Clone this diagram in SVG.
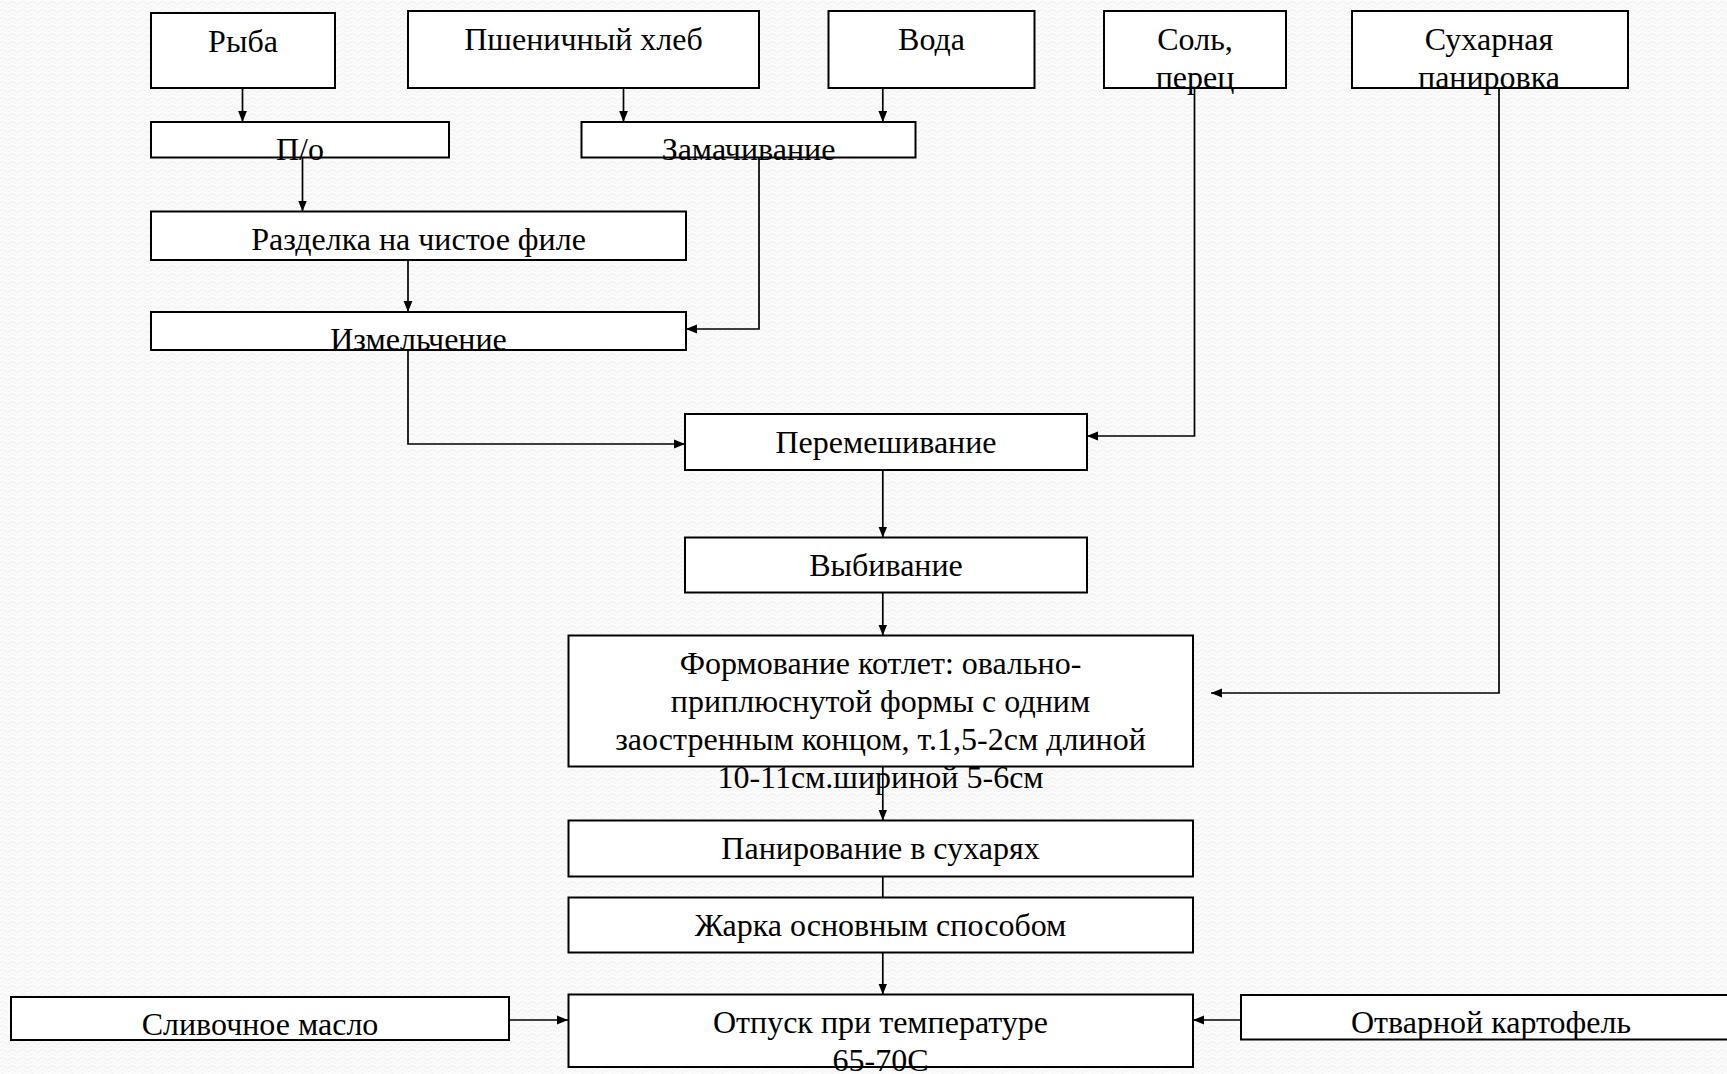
<svg xmlns="http://www.w3.org/2000/svg" width="1727" height="1074" viewBox="0 0 1727 1074">
<defs>
<pattern id="bgtex" width="10" height="8" patternUnits="userSpaceOnUse">
<rect width="10" height="8" fill="#fbfbfb"/>
<path d="M0,3 Q2.5,0 5,3 T10,3" fill="none" stroke="#eeeeee" stroke-width="1"/>
<path d="M0,7 Q2.5,4 5,7 T10,7" fill="none" stroke="#f3f3f3" stroke-width="1"/>
</pattern>
<marker id="arr" viewBox="0 0 10 10" refX="10" refY="5" markerUnits="userSpaceOnUse" markerWidth="11" markerHeight="11" orient="auto">
<path d="M0,1 L10,5 L0,9 Z" fill="#000"/>
</marker>
</defs>
<style>
.box{fill:#fff;stroke:#000;stroke-width:2}
.t{font-family:"Liberation Serif","Times New Roman",serif;font-size:32px;fill:#000;text-anchor:middle}
.c{fill:none;stroke:#000;stroke-width:1.7}
.a{marker-end:url(#arr)}
</style>
<rect width="1727" height="1074" fill="url(#bgtex)"/>

<g id="connectors">
<path class="c a" d="M242.5,88 V122"/>
<path class="c a" d="M623.5,88 V122"/>
<path class="c a" d="M882.8,88 V122"/>
<path class="c a" d="M302.5,157.5 V211.5"/>
<path class="c a" d="M408,260 V312"/>
<path class="c a" d="M759,157.5 V329 H686"/>
<path class="c a" d="M408,350 V444 H685"/>
<path class="c a" d="M1194.5,88 V436 H1087"/>
<path class="c a" d="M882.8,470 V537.5"/>
<path class="c a" d="M882.8,592.5 V635.5"/>
<path class="c a" d="M1499,88 V693 H1211"/>
<path class="c a" d="M882.8,766.5 V820.5"/>
<path class="c" d="M882.8,876.5 V897.5"/>
<path class="c a" d="M882.8,952.5 V994.5"/>
<path class="c a" d="M509,1020 H568"/>
<path class="c a" d="M1241,1020 H1193"/>
</g>

<g id="n-ryba"><rect class="box" x="151" y="13" width="184" height="75"/><text class="t" x="243" y="51.5">Рыба</text></g>
<g id="n-hleb"><rect class="box" x="408" y="11" width="351" height="77"/><text class="t" x="583.5" y="49.5">Пшеничный хлеб</text></g>
<g id="n-voda"><rect class="box" x="828.5" y="11" width="206" height="77"/><text class="t" x="931.5" y="49.5">Вода</text></g>
<g id="n-sol"><rect class="box" x="1104" y="11" width="182" height="77"/><text class="t" x="1195" y="49.5">Соль,</text><text class="t" x="1195" y="87.5">перец</text></g>
<g id="n-suhar"><rect class="box" x="1352" y="11" width="276" height="77"/><text class="t" x="1489" y="49.5">Сухарная</text><text class="t" x="1489" y="87.5">панировка</text></g>

<g id="n-po"><rect class="box" x="151" y="122" width="298" height="35.5"/><text class="t" x="300" y="160">П/о</text></g>
<g id="n-zamach"><rect class="box" x="581.5" y="122" width="334" height="35.5"/><text class="t" x="748.5" y="160">Замачивание</text></g>
<g id="n-razdelka"><rect class="box" x="151" y="211.5" width="535" height="48.5"/><text class="t" x="418.5" y="250">Разделка на чистое филе</text></g>
<g id="n-izmelch"><rect class="box" x="151" y="312" width="535" height="38"/><text class="t" x="418.5" y="350">Измельчение</text></g>
<g id="n-peremesh"><rect class="box" x="685" y="414" width="402" height="56"/><text class="t" x="886" y="453">Перемешивание</text></g>
<g id="n-vybiv"><rect class="box" x="685" y="537.5" width="402" height="55"/><text class="t" x="886" y="576">Выбивание</text></g>
<g id="n-formov"><rect class="box" x="568.5" y="635.5" width="624.5" height="131"/>
<text class="t" x="880.5" y="674">Формование котлет: овально-</text>
<text class="t" x="880.5" y="712">приплюснутой формы с одним</text>
<text class="t" x="880.5" y="750">заостренным концом, т.1,5-2см длиной</text>
<text class="t" x="880.5" y="788">10-11см.шириной 5-6см</text></g>
<g id="n-paniro"><rect class="box" x="568.5" y="820.5" width="624.5" height="56"/><text class="t" x="880.5" y="859">Панирование в сухарях</text></g>
<g id="n-zharka"><rect class="box" x="568.5" y="897.5" width="624.5" height="55"/><text class="t" x="880.5" y="936">Жарка основным способом</text></g>
<g id="n-otpusk"><rect class="box" x="568.5" y="994.5" width="624.5" height="72.5"/><text class="t" x="880.5" y="1033">Отпуск при температуре</text><text class="t" x="880.5" y="1071">65-70С</text></g>
<g id="n-maslo"><rect class="box" x="11" y="997" width="498" height="43"/><text class="t" x="260" y="1035">Сливочное масло</text></g>
<g id="n-kartof"><rect class="box" x="1241" y="995" width="500" height="44.5"/><text class="t" x="1491" y="1033">Отварной картофель</text></g>
</svg>
